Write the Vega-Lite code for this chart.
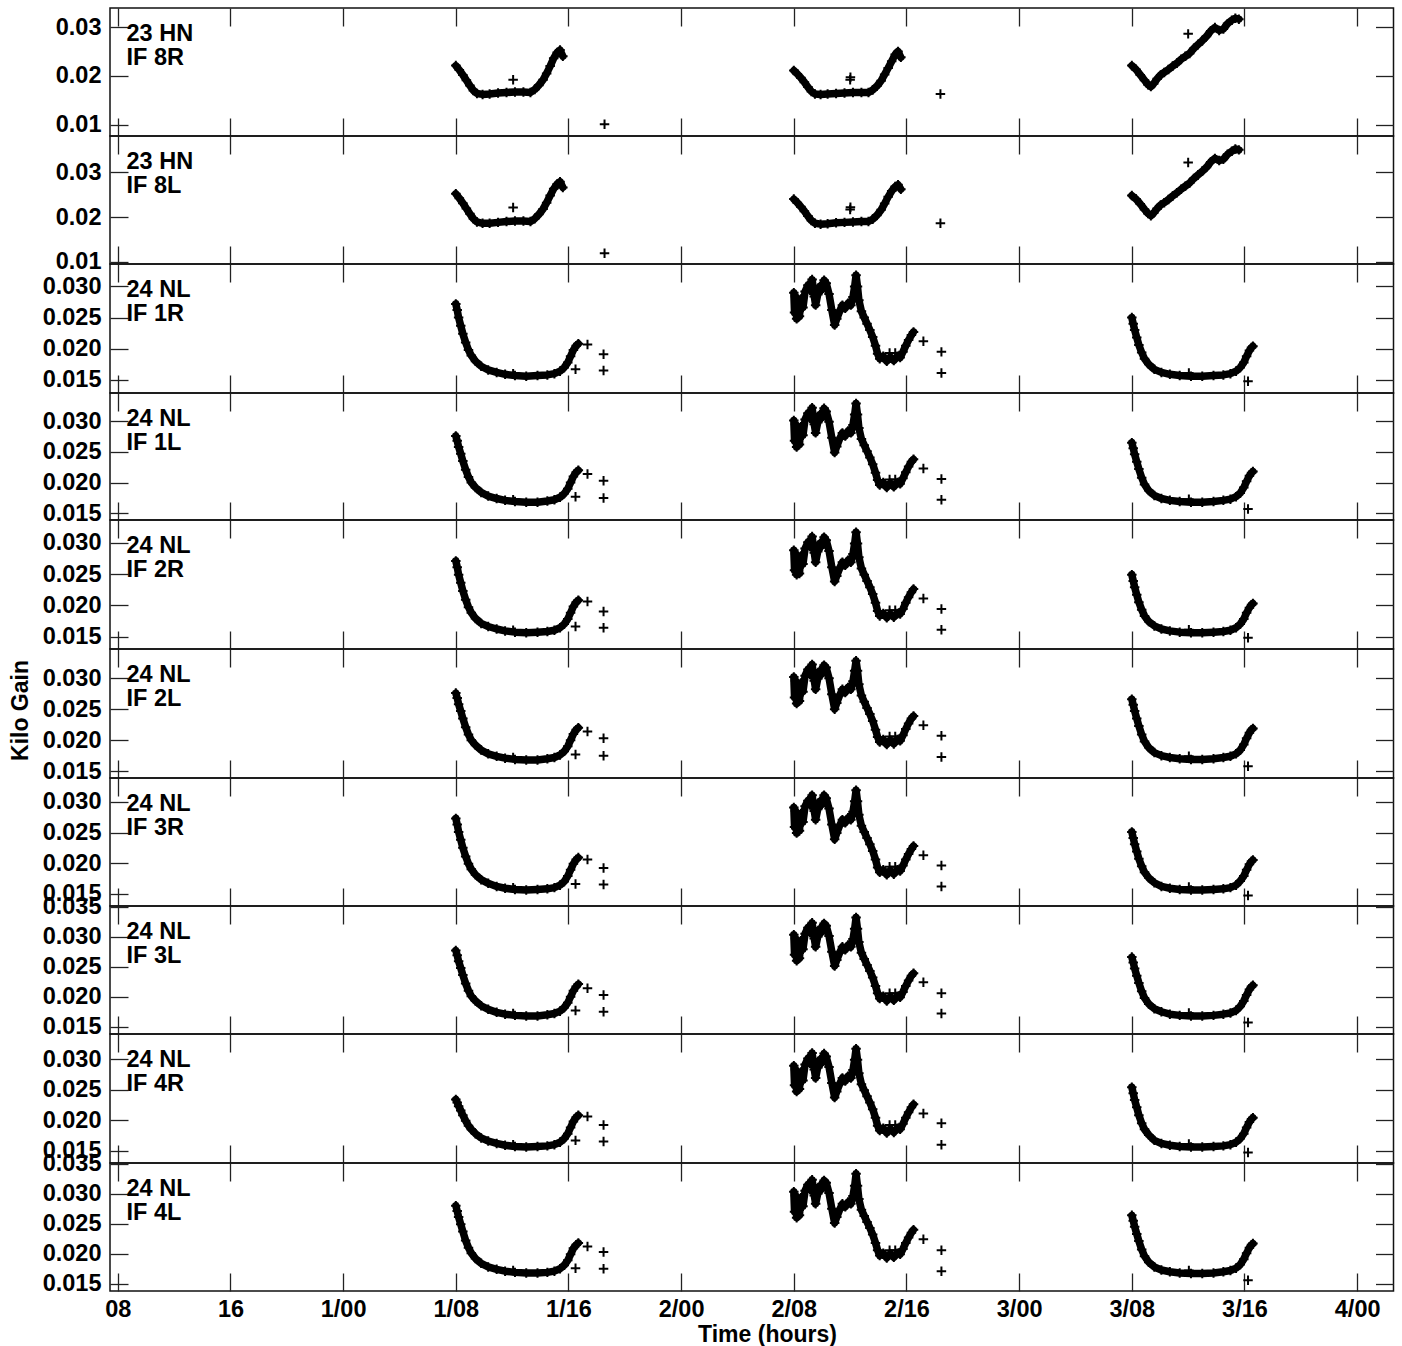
{
"$schema": "https://vega.github.io/schema/vega-lite/v6.json",
"padding": {"left": 8, "top": 6, "right": 9, "bottom": 0},
"bounds": "flush",
"spacing": 0,
"background": "white",
"config": {
 "font": "Liberation Sans",
 "view": {"stroke": "#111", "strokeWidth": 1.5},
 "axis": {"labelFont": "Liberation Sans", "labelFontSize": 23.5, "labelFontWeight": "bold", "labelColor": "black", "titleFont": "Liberation Sans", "titleFontSize": 23, "titleFontWeight": "bold", "titleColor": "black", "tickColor": "#222", "tickWidth": 1.3, "tickSize": -18, "domain": false, "grid": false, "labelFlush": false, "labelOverlap": false},
 "axisTop": {"labels": false},
 "axisRight": {"labels": false},
 "axisBottom": {"labels": false},
 "axisLeft": {"labelPadding": 27}
},
"datasets": {
"p1": [{"t":32,"v":0.0221},{"t":32.25,"v":0.0212},{"t":32.5,"v":0.0202},{"t":32.75,"v":0.0191},{"t":33,"v":0.018},{"t":33.25,"v":0.017},{"t":33.5,"v":0.0164},{"t":33.9,"v":0.0162},{"t":34.4,"v":0.0163},{"t":35,"v":0.0165},{"t":35.6,"v":0.0166},{"t":36.2,"v":0.0167},{"t":36.8,"v":0.0167},{"t":37.3,"v":0.0166},{"t":37.6,"v":0.0172},{"t":37.9,"v":0.0181},{"t":38.2,"v":0.0192},{"t":38.45,"v":0.0205},{"t":38.7,"v":0.022},{"t":38.95,"v":0.0236},{"t":39.2,"v":0.0248},{"t":39.4,"v":0.0253},{"t":39.6,"v":0.024},
{"t":36.07,"v":0.0192,"i":1},{"t":42.56,"v":0.0101,"i":1},
{"t":56,"v":0.0211},{"t":56.25,"v":0.0204},{"t":56.5,"v":0.0196},{"t":56.75,"v":0.0187},{"t":57,"v":0.0177},{"t":57.25,"v":0.0168},{"t":57.5,"v":0.0163},{"t":57.9,"v":0.0162},{"t":58.4,"v":0.0163},{"t":59,"v":0.0164},{"t":59.6,"v":0.0165},{"t":60.2,"v":0.0166},{"t":60.8,"v":0.0166},{"t":61.3,"v":0.0166},{"t":61.6,"v":0.0171},{"t":61.9,"v":0.0179},{"t":62.2,"v":0.019},{"t":62.45,"v":0.0203},{"t":62.7,"v":0.0216},{"t":62.95,"v":0.023},{"t":63.2,"v":0.0244},{"t":63.4,"v":0.025},{"t":63.6,"v":0.0238},
{"t":60,"v":0.0192,"i":1},{"t":60.02,"v":0.0197,"i":1},{"t":66.41,"v":0.0163,"i":1},
{"t":80,"v":0.0221},{"t":80.3,"v":0.0213},{"t":80.6,"v":0.0202},{"t":80.9,"v":0.0191},{"t":81.15,"v":0.0182},{"t":81.35,"v":0.0178},{"t":81.55,"v":0.0184},{"t":81.8,"v":0.0194},{"t":82.05,"v":0.0202},{"t":82.3,"v":0.0207},{"t":82.6,"v":0.0213},{"t":82.9,"v":0.022},{"t":83.2,"v":0.0226},{"t":83.5,"v":0.0234},{"t":83.8,"v":0.024},{"t":84.1,"v":0.0246},{"t":84.4,"v":0.0256},{"t":84.7,"v":0.0264},{"t":85,"v":0.0272},{"t":85.3,"v":0.0281},{"t":85.6,"v":0.0292},{"t":85.9,"v":0.0299},{"t":86.2,"v":0.0293},{"t":86.5,"v":0.0296},{"t":86.8,"v":0.0307},{"t":87.1,"v":0.0314},{"t":87.35,"v":0.0318},{"t":87.6,"v":0.0316},
{"t":84,"v":0.0286,"i":1}],
"p2": [{"t":32,"v":0.0252},{"t":32.25,"v":0.0242},{"t":32.5,"v":0.0231},{"t":32.75,"v":0.0219},{"t":33,"v":0.0207},{"t":33.25,"v":0.0196},{"t":33.5,"v":0.0189},{"t":33.9,"v":0.0186},{"t":34.4,"v":0.0186},{"t":35,"v":0.0188},{"t":35.6,"v":0.019},{"t":36.2,"v":0.0191},{"t":36.8,"v":0.0191},{"t":37.3,"v":0.019},{"t":37.6,"v":0.0196},{"t":37.9,"v":0.0206},{"t":38.2,"v":0.0218},{"t":38.45,"v":0.0232},{"t":38.7,"v":0.0248},{"t":38.95,"v":0.0263},{"t":39.2,"v":0.0274},{"t":39.4,"v":0.0279},{"t":39.6,"v":0.0266},
{"t":36.07,"v":0.0221,"i":1},{"t":42.56,"v":0.0119,"i":1},
{"t":56,"v":0.024},{"t":56.25,"v":0.0232},{"t":56.5,"v":0.0223},{"t":56.75,"v":0.0213},{"t":57,"v":0.0202},{"t":57.25,"v":0.0192},{"t":57.5,"v":0.0186},{"t":57.9,"v":0.0184},{"t":58.4,"v":0.0185},{"t":59,"v":0.0187},{"t":59.6,"v":0.0188},{"t":60.2,"v":0.0189},{"t":60.8,"v":0.019},{"t":61.3,"v":0.019},{"t":61.6,"v":0.0195},{"t":61.9,"v":0.0204},{"t":62.2,"v":0.0216},{"t":62.45,"v":0.023},{"t":62.7,"v":0.0245},{"t":62.95,"v":0.0258},{"t":63.2,"v":0.0268},{"t":63.4,"v":0.0272},{"t":63.6,"v":0.0262},
{"t":60,"v":0.0217,"i":1},{"t":60.02,"v":0.0222,"i":1},{"t":66.41,"v":0.0186,"i":1},
{"t":80,"v":0.0248},{"t":80.3,"v":0.024},{"t":80.6,"v":0.0229},{"t":80.9,"v":0.0217},{"t":81.15,"v":0.0208},{"t":81.35,"v":0.0203},{"t":81.55,"v":0.0209},{"t":81.8,"v":0.0219},{"t":82.05,"v":0.0227},{"t":82.3,"v":0.0232},{"t":82.6,"v":0.0239},{"t":82.9,"v":0.0247},{"t":83.2,"v":0.0254},{"t":83.5,"v":0.0262},{"t":83.8,"v":0.0269},{"t":84.1,"v":0.0276},{"t":84.4,"v":0.0286},{"t":84.7,"v":0.0294},{"t":85,"v":0.0302},{"t":85.3,"v":0.0311},{"t":85.6,"v":0.0323},{"t":85.9,"v":0.0331},{"t":86.2,"v":0.0326},{"t":86.5,"v":0.0329},{"t":86.8,"v":0.034},{"t":87.1,"v":0.0347},{"t":87.35,"v":0.0352},{"t":87.6,"v":0.035},
{"t":84,"v":0.0322,"i":1}],
"p3": [{"t":32,"v":0.0272},{"t":32.1,"v":0.0262},{"t":32.2,"v":0.025},{"t":32.35,"v":0.0237},{"t":32.5,"v":0.0224},{"t":32.7,"v":0.021},{"t":32.9,"v":0.0198},{"t":33.1,"v":0.0189},{"t":33.4,"v":0.018},{"t":33.8,"v":0.0172},{"t":34.3,"v":0.0166},{"t":34.9,"v":0.0162},{"t":35.5,"v":0.0159},{"t":36.2,"v":0.0157},{"t":37,"v":0.0156},{"t":37.8,"v":0.0157},{"t":38.5,"v":0.0158},{"t":39,"v":0.016},{"t":39.4,"v":0.0164},{"t":39.7,"v":0.017},{"t":39.95,"v":0.0178},{"t":40.15,"v":0.0188},{"t":40.35,"v":0.0198},{"t":40.55,"v":0.0205},{"t":40.7,"v":0.0208},
{"t":36.07,"v":0.016,"i":1},{"t":40.5,"v":0.0167,"i":1},{"t":41.35,"v":0.0207,"i":1},{"t":42.49,"v":0.0191,"i":1},{"t":42.49,"v":0.0165,"i":1},
{"t":56,"v":0.029},{"t":56.05,"v":0.0258},{"t":56.12,"v":0.0284},{"t":56.2,"v":0.0248},{"t":56.3,"v":0.0276},{"t":56.4,"v":0.0252},{"t":56.5,"v":0.028},{"t":56.65,"v":0.0266},{"t":56.8,"v":0.0292},{"t":57,"v":0.0302},{"t":57.15,"v":0.0294},{"t":57.3,"v":0.0311},{"t":57.45,"v":0.0284},{"t":57.55,"v":0.027},{"t":57.7,"v":0.0287},{"t":57.85,"v":0.03},{"t":58,"v":0.0295},{"t":58.15,"v":0.031},{"t":58.3,"v":0.0305},{"t":58.5,"v":0.0288},{"t":58.7,"v":0.0262},{"t":58.9,"v":0.0238},{"t":59.05,"v":0.0248},{"t":59.25,"v":0.026},{"t":59.45,"v":0.027},{"t":59.65,"v":0.0265},{"t":59.85,"v":0.0273},{"t":60.05,"v":0.027},{"t":60.2,"v":0.0283},{"t":60.32,"v":0.03},{"t":60.42,"v":0.0318},{"t":60.52,"v":0.03},{"t":60.62,"v":0.0278},{"t":60.8,"v":0.026},{"t":61,"v":0.025},{"t":61.2,"v":0.024},{"t":61.4,"v":0.023},{"t":61.6,"v":0.0219},{"t":61.8,"v":0.0205},{"t":61.95,"v":0.0192},{"t":62.1,"v":0.0184},{"t":62.35,"v":0.0188},{"t":62.6,"v":0.018},{"t":62.85,"v":0.0187},{"t":63.1,"v":0.0181},{"t":63.35,"v":0.0188},{"t":63.55,"v":0.0186},{"t":63.75,"v":0.0195},{"t":63.95,"v":0.0205},{"t":64.15,"v":0.0214},{"t":64.35,"v":0.0222},{"t":64.5,"v":0.0227},
{"t":62.8,"v":0.0193,"i":1},{"t":63.2,"v":0.0193,"i":1},{"t":65.2,"v":0.0212,"i":1},{"t":66.48,"v":0.0195,"i":1},{"t":66.48,"v":0.0161,"i":1},
{"t":80,"v":0.025},{"t":80.1,"v":0.024},{"t":80.2,"v":0.023},{"t":80.35,"v":0.0218},{"t":80.5,"v":0.0206},{"t":80.7,"v":0.0194},{"t":80.9,"v":0.0184},{"t":81.2,"v":0.0175},{"t":81.6,"v":0.0167},{"t":82.1,"v":0.0162},{"t":82.7,"v":0.0159},{"t":83.4,"v":0.0157},{"t":84.2,"v":0.0156},{"t":85,"v":0.0156},{"t":85.8,"v":0.0157},{"t":86.5,"v":0.0158},{"t":87,"v":0.016},{"t":87.4,"v":0.0164},{"t":87.7,"v":0.017},{"t":87.95,"v":0.0178},{"t":88.15,"v":0.0188},{"t":88.35,"v":0.0197},{"t":88.5,"v":0.0202},{"t":88.6,"v":0.0204},
{"t":84.05,"v":0.0161,"i":1},{"t":88.25,"v":0.0148,"i":1}],
"p4": [{"t":32,"v":0.0276},{"t":32.1,"v":0.0268},{"t":32.2,"v":0.0258},{"t":32.35,"v":0.0247},{"t":32.5,"v":0.0235},{"t":32.7,"v":0.0221},{"t":32.9,"v":0.0209},{"t":33.1,"v":0.02},{"t":33.4,"v":0.0192},{"t":33.8,"v":0.0184},{"t":34.3,"v":0.0178},{"t":34.9,"v":0.0174},{"t":35.5,"v":0.0171},{"t":36.2,"v":0.0169},{"t":37,"v":0.0168},{"t":37.8,"v":0.0168},{"t":38.5,"v":0.017},{"t":39,"v":0.0172},{"t":39.4,"v":0.0176},{"t":39.7,"v":0.0182},{"t":39.95,"v":0.019},{"t":40.15,"v":0.02},{"t":40.35,"v":0.021},{"t":40.55,"v":0.0217},{"t":40.7,"v":0.022},
{"t":36.07,"v":0.0172,"i":1},{"t":40.5,"v":0.0177,"i":1},{"t":41.35,"v":0.0214,"i":1},{"t":42.49,"v":0.0203,"i":1},{"t":42.49,"v":0.0175,"i":1},
{"t":56,"v":0.0301},{"t":56.05,"v":0.0268},{"t":56.12,"v":0.0295},{"t":56.2,"v":0.0258},{"t":56.3,"v":0.0287},{"t":56.4,"v":0.0262},{"t":56.5,"v":0.0291},{"t":56.65,"v":0.0277},{"t":56.8,"v":0.0303},{"t":57,"v":0.0313},{"t":57.15,"v":0.0305},{"t":57.3,"v":0.0322},{"t":57.45,"v":0.0295},{"t":57.55,"v":0.0281},{"t":57.7,"v":0.0298},{"t":57.85,"v":0.0311},{"t":58,"v":0.0306},{"t":58.15,"v":0.0321},{"t":58.3,"v":0.0316},{"t":58.5,"v":0.0299},{"t":58.7,"v":0.0273},{"t":58.9,"v":0.0249},{"t":59.05,"v":0.0259},{"t":59.25,"v":0.0271},{"t":59.45,"v":0.0281},{"t":59.65,"v":0.0276},{"t":59.85,"v":0.0284},{"t":60.05,"v":0.0281},{"t":60.2,"v":0.0294},{"t":60.32,"v":0.0311},{"t":60.42,"v":0.0329},{"t":60.52,"v":0.0311},{"t":60.62,"v":0.0289},{"t":60.8,"v":0.0271},{"t":61,"v":0.0261},{"t":61.2,"v":0.0251},{"t":61.4,"v":0.0241},{"t":61.6,"v":0.023},{"t":61.8,"v":0.0216},{"t":61.95,"v":0.0204},{"t":62.1,"v":0.0196},{"t":62.35,"v":0.02},{"t":62.6,"v":0.0192},{"t":62.85,"v":0.0199},{"t":63.1,"v":0.0193},{"t":63.35,"v":0.02},{"t":63.55,"v":0.0198},{"t":63.75,"v":0.0207},{"t":63.95,"v":0.0217},{"t":64.15,"v":0.0226},{"t":64.35,"v":0.0234},{"t":64.5,"v":0.0238},
{"t":62.8,"v":0.0205,"i":1},{"t":63.2,"v":0.0205,"i":1},{"t":65.2,"v":0.0223,"i":1},{"t":66.48,"v":0.0206,"i":1},{"t":66.48,"v":0.0172,"i":1},
{"t":80,"v":0.0265},{"t":80.1,"v":0.0256},{"t":80.2,"v":0.0246},{"t":80.35,"v":0.0234},{"t":80.5,"v":0.0222},{"t":80.7,"v":0.0208},{"t":80.9,"v":0.0197},{"t":81.2,"v":0.0187},{"t":81.6,"v":0.0179},{"t":82.1,"v":0.0174},{"t":82.7,"v":0.0171},{"t":83.4,"v":0.0169},{"t":84.2,"v":0.0168},{"t":85,"v":0.0168},{"t":85.8,"v":0.0169},{"t":86.5,"v":0.0171},{"t":87,"v":0.0173},{"t":87.4,"v":0.0177},{"t":87.7,"v":0.0183},{"t":87.95,"v":0.0192},{"t":88.15,"v":0.0202},{"t":88.35,"v":0.0211},{"t":88.5,"v":0.0216},{"t":88.6,"v":0.0218},
{"t":84.05,"v":0.0173,"i":1},{"t":88.25,"v":0.0157,"i":1}],
"p5": [{"t":32,"v":0.0271},{"t":32.1,"v":0.0261},{"t":32.2,"v":0.0249},{"t":32.35,"v":0.0236},{"t":32.5,"v":0.0223},{"t":32.7,"v":0.0209},{"t":32.9,"v":0.0197},{"t":33.1,"v":0.0188},{"t":33.4,"v":0.0179},{"t":33.8,"v":0.0171},{"t":34.3,"v":0.0166},{"t":34.9,"v":0.0162},{"t":35.5,"v":0.0159},{"t":36.2,"v":0.0157},{"t":37,"v":0.0156},{"t":37.8,"v":0.0157},{"t":38.5,"v":0.0158},{"t":39,"v":0.016},{"t":39.4,"v":0.0164},{"t":39.7,"v":0.017},{"t":39.95,"v":0.0178},{"t":40.15,"v":0.0188},{"t":40.35,"v":0.0198},{"t":40.55,"v":0.0205},{"t":40.7,"v":0.0208},
{"t":36.07,"v":0.016,"i":1},{"t":40.5,"v":0.0166,"i":1},{"t":41.35,"v":0.0206,"i":1},{"t":42.49,"v":0.019,"i":1},{"t":42.49,"v":0.0164,"i":1},
{"t":56,"v":0.0288},{"t":56.05,"v":0.0256},{"t":56.12,"v":0.0283},{"t":56.2,"v":0.0249},{"t":56.3,"v":0.0275},{"t":56.4,"v":0.0251},{"t":56.5,"v":0.0279},{"t":56.65,"v":0.0266},{"t":56.8,"v":0.0291},{"t":57,"v":0.0301},{"t":57.15,"v":0.0294},{"t":57.3,"v":0.031},{"t":57.45,"v":0.0284},{"t":57.55,"v":0.0269},{"t":57.7,"v":0.0286},{"t":57.85,"v":0.0299},{"t":58,"v":0.0295},{"t":58.15,"v":0.0309},{"t":58.3,"v":0.0304},{"t":58.5,"v":0.0287},{"t":58.7,"v":0.0261},{"t":58.9,"v":0.0238},{"t":59.05,"v":0.0247},{"t":59.25,"v":0.0259},{"t":59.45,"v":0.0269},{"t":59.65,"v":0.0264},{"t":59.85,"v":0.0272},{"t":60.05,"v":0.0269},{"t":60.2,"v":0.0282},{"t":60.32,"v":0.0299},{"t":60.42,"v":0.0317},{"t":60.52,"v":0.0299},{"t":60.62,"v":0.0277},{"t":60.8,"v":0.0259},{"t":61,"v":0.0249},{"t":61.2,"v":0.0239},{"t":61.4,"v":0.0229},{"t":61.6,"v":0.0218},{"t":61.8,"v":0.0204},{"t":61.95,"v":0.0191},{"t":62.1,"v":0.0183},{"t":62.35,"v":0.0187},{"t":62.6,"v":0.018},{"t":62.85,"v":0.0186},{"t":63.1,"v":0.0181},{"t":63.35,"v":0.0187},{"t":63.55,"v":0.0186},{"t":63.75,"v":0.0194},{"t":63.95,"v":0.0204},{"t":64.15,"v":0.0213},{"t":64.35,"v":0.0221},{"t":64.5,"v":0.0226},
{"t":62.8,"v":0.0192,"i":1},{"t":63.2,"v":0.0192,"i":1},{"t":65.2,"v":0.0211,"i":1},{"t":66.48,"v":0.0194,"i":1},{"t":66.48,"v":0.0161,"i":1},
{"t":80,"v":0.0249},{"t":80.1,"v":0.0239},{"t":80.2,"v":0.0229},{"t":80.35,"v":0.0217},{"t":80.5,"v":0.0205},{"t":80.7,"v":0.0193},{"t":80.9,"v":0.0183},{"t":81.2,"v":0.0174},{"t":81.6,"v":0.0167},{"t":82.1,"v":0.0162},{"t":82.7,"v":0.0159},{"t":83.4,"v":0.0157},{"t":84.2,"v":0.0156},{"t":85,"v":0.0156},{"t":85.8,"v":0.0157},{"t":86.5,"v":0.0158},{"t":87,"v":0.016},{"t":87.4,"v":0.0164},{"t":87.7,"v":0.017},{"t":87.95,"v":0.0178},{"t":88.15,"v":0.0188},{"t":88.35,"v":0.0196},{"t":88.5,"v":0.0201},{"t":88.6,"v":0.0203},
{"t":84.05,"v":0.0161,"i":1},{"t":88.25,"v":0.0148,"i":1}],
"p6": [{"t":32,"v":0.0276},{"t":32.1,"v":0.0268},{"t":32.2,"v":0.0258},{"t":32.35,"v":0.0247},{"t":32.5,"v":0.0235},{"t":32.7,"v":0.0221},{"t":32.9,"v":0.0209},{"t":33.1,"v":0.02},{"t":33.4,"v":0.0192},{"t":33.8,"v":0.0184},{"t":34.3,"v":0.0178},{"t":34.9,"v":0.0174},{"t":35.5,"v":0.0171},{"t":36.2,"v":0.0169},{"t":37,"v":0.0168},{"t":37.8,"v":0.0168},{"t":38.5,"v":0.017},{"t":39,"v":0.0172},{"t":39.4,"v":0.0176},{"t":39.7,"v":0.0182},{"t":39.95,"v":0.019},{"t":40.15,"v":0.02},{"t":40.35,"v":0.021},{"t":40.55,"v":0.0217},{"t":40.7,"v":0.022},
{"t":36.07,"v":0.0172,"i":1},{"t":40.5,"v":0.0177,"i":1},{"t":41.35,"v":0.0214,"i":1},{"t":42.49,"v":0.0203,"i":1},{"t":42.49,"v":0.0175,"i":1},
{"t":56,"v":0.0302},{"t":56.05,"v":0.0269},{"t":56.12,"v":0.0296},{"t":56.2,"v":0.0259},{"t":56.3,"v":0.0288},{"t":56.4,"v":0.0263},{"t":56.5,"v":0.0292},{"t":56.65,"v":0.0278},{"t":56.8,"v":0.0304},{"t":57,"v":0.0314},{"t":57.15,"v":0.0306},{"t":57.3,"v":0.0322},{"t":57.45,"v":0.0296},{"t":57.55,"v":0.0282},{"t":57.7,"v":0.0299},{"t":57.85,"v":0.0312},{"t":58,"v":0.0307},{"t":58.15,"v":0.0321},{"t":58.3,"v":0.0317},{"t":58.5,"v":0.03},{"t":58.7,"v":0.0274},{"t":58.9,"v":0.025},{"t":59.05,"v":0.026},{"t":59.25,"v":0.0272},{"t":59.45,"v":0.0282},{"t":59.65,"v":0.0277},{"t":59.85,"v":0.0285},{"t":60.05,"v":0.0282},{"t":60.2,"v":0.0295},{"t":60.32,"v":0.0312},{"t":60.42,"v":0.0328},{"t":60.52,"v":0.0312},{"t":60.62,"v":0.029},{"t":60.8,"v":0.0272},{"t":61,"v":0.0262},{"t":61.2,"v":0.0252},{"t":61.4,"v":0.0242},{"t":61.6,"v":0.0231},{"t":61.8,"v":0.0217},{"t":61.95,"v":0.0205},{"t":62.1,"v":0.0197},{"t":62.35,"v":0.0201},{"t":62.6,"v":0.0193},{"t":62.85,"v":0.02},{"t":63.1,"v":0.0194},{"t":63.35,"v":0.0201},{"t":63.55,"v":0.0199},{"t":63.75,"v":0.0208},{"t":63.95,"v":0.0218},{"t":64.15,"v":0.0227},{"t":64.35,"v":0.0235},{"t":64.5,"v":0.0239},
{"t":62.8,"v":0.0206,"i":1},{"t":63.2,"v":0.0206,"i":1},{"t":65.2,"v":0.0224,"i":1},{"t":66.48,"v":0.0207,"i":1},{"t":66.48,"v":0.0173,"i":1},
{"t":80,"v":0.0266},{"t":80.1,"v":0.0257},{"t":80.2,"v":0.0247},{"t":80.35,"v":0.0235},{"t":80.5,"v":0.0223},{"t":80.7,"v":0.0209},{"t":80.9,"v":0.0198},{"t":81.2,"v":0.0188},{"t":81.6,"v":0.018},{"t":82.1,"v":0.0175},{"t":82.7,"v":0.0172},{"t":83.4,"v":0.017},{"t":84.2,"v":0.0169},{"t":85,"v":0.0169},{"t":85.8,"v":0.017},{"t":86.5,"v":0.0172},{"t":87,"v":0.0174},{"t":87.4,"v":0.0178},{"t":87.7,"v":0.0184},{"t":87.95,"v":0.0193},{"t":88.15,"v":0.0203},{"t":88.35,"v":0.0212},{"t":88.5,"v":0.0217},{"t":88.6,"v":0.0219},
{"t":84.05,"v":0.0174,"i":1},{"t":88.25,"v":0.0158,"i":1}],
"p7": [{"t":32,"v":0.0273},{"t":32.1,"v":0.0263},{"t":32.2,"v":0.0251},{"t":32.35,"v":0.0238},{"t":32.5,"v":0.0225},{"t":32.7,"v":0.0211},{"t":32.9,"v":0.0199},{"t":33.1,"v":0.019},{"t":33.4,"v":0.0181},{"t":33.8,"v":0.0173},{"t":34.3,"v":0.0167},{"t":34.9,"v":0.0162},{"t":35.5,"v":0.0159},{"t":36.2,"v":0.0157},{"t":37,"v":0.0156},{"t":37.8,"v":0.0157},{"t":38.5,"v":0.0158},{"t":39,"v":0.016},{"t":39.4,"v":0.0164},{"t":39.7,"v":0.017},{"t":39.95,"v":0.0179},{"t":40.15,"v":0.0189},{"t":40.35,"v":0.0199},{"t":40.55,"v":0.0206},{"t":40.7,"v":0.0209},
{"t":36.07,"v":0.016,"i":1},{"t":40.5,"v":0.0166,"i":1},{"t":41.35,"v":0.0206,"i":1},{"t":42.49,"v":0.0192,"i":1},{"t":42.49,"v":0.0165,"i":1},
{"t":56,"v":0.0291},{"t":56.05,"v":0.0259},{"t":56.12,"v":0.0285},{"t":56.2,"v":0.0249},{"t":56.3,"v":0.0277},{"t":56.4,"v":0.0253},{"t":56.5,"v":0.0281},{"t":56.65,"v":0.0267},{"t":56.8,"v":0.0293},{"t":57,"v":0.0302},{"t":57.15,"v":0.0295},{"t":57.3,"v":0.0311},{"t":57.45,"v":0.0285},{"t":57.55,"v":0.0271},{"t":57.7,"v":0.0288},{"t":57.85,"v":0.0301},{"t":58,"v":0.0296},{"t":58.15,"v":0.0311},{"t":58.3,"v":0.0306},{"t":58.5,"v":0.0289},{"t":58.7,"v":0.0263},{"t":58.9,"v":0.0239},{"t":59.05,"v":0.0249},{"t":59.25,"v":0.0261},{"t":59.45,"v":0.0271},{"t":59.65,"v":0.0266},{"t":59.85,"v":0.0274},{"t":60.05,"v":0.0271},{"t":60.2,"v":0.0284},{"t":60.32,"v":0.0301},{"t":60.42,"v":0.0319},{"t":60.52,"v":0.0301},{"t":60.62,"v":0.0279},{"t":60.8,"v":0.0261},{"t":61,"v":0.0251},{"t":61.2,"v":0.0241},{"t":61.4,"v":0.0231},{"t":61.6,"v":0.022},{"t":61.8,"v":0.0206},{"t":61.95,"v":0.0193},{"t":62.1,"v":0.0185},{"t":62.35,"v":0.0189},{"t":62.6,"v":0.0181},{"t":62.85,"v":0.0188},{"t":63.1,"v":0.0182},{"t":63.35,"v":0.0189},{"t":63.55,"v":0.0187},{"t":63.75,"v":0.0196},{"t":63.95,"v":0.0206},{"t":64.15,"v":0.0215},{"t":64.35,"v":0.0223},{"t":64.5,"v":0.0228},
{"t":62.8,"v":0.0194,"i":1},{"t":63.2,"v":0.0194,"i":1},{"t":65.2,"v":0.0213,"i":1},{"t":66.48,"v":0.0196,"i":1},{"t":66.48,"v":0.0162,"i":1},
{"t":80,"v":0.0251},{"t":80.1,"v":0.0241},{"t":80.2,"v":0.0231},{"t":80.35,"v":0.0219},{"t":80.5,"v":0.0207},{"t":80.7,"v":0.0195},{"t":80.9,"v":0.0185},{"t":81.2,"v":0.0176},{"t":81.6,"v":0.0168},{"t":82.1,"v":0.0162},{"t":82.7,"v":0.0159},{"t":83.4,"v":0.0157},{"t":84.2,"v":0.0156},{"t":85,"v":0.0156},{"t":85.8,"v":0.0157},{"t":86.5,"v":0.0158},{"t":87,"v":0.016},{"t":87.4,"v":0.0164},{"t":87.7,"v":0.0171},{"t":87.95,"v":0.0179},{"t":88.15,"v":0.0189},{"t":88.35,"v":0.0198},{"t":88.5,"v":0.0203},{"t":88.6,"v":0.0205},
{"t":84.05,"v":0.0161,"i":1},{"t":88.25,"v":0.0147,"i":1}],
"p8": [{"t":32,"v":0.0277},{"t":32.1,"v":0.0269},{"t":32.2,"v":0.0259},{"t":32.35,"v":0.0248},{"t":32.5,"v":0.0236},{"t":32.7,"v":0.0222},{"t":32.9,"v":0.021},{"t":33.1,"v":0.0201},{"t":33.4,"v":0.0193},{"t":33.8,"v":0.0185},{"t":34.3,"v":0.0179},{"t":34.9,"v":0.0174},{"t":35.5,"v":0.0171},{"t":36.2,"v":0.0169},{"t":37,"v":0.0168},{"t":37.8,"v":0.0168},{"t":38.5,"v":0.017},{"t":39,"v":0.0172},{"t":39.4,"v":0.0176},{"t":39.7,"v":0.0182},{"t":39.95,"v":0.019},{"t":40.15,"v":0.02},{"t":40.35,"v":0.021},{"t":40.55,"v":0.0217},{"t":40.7,"v":0.0221},
{"t":36.07,"v":0.0172,"i":1},{"t":40.5,"v":0.0177,"i":1},{"t":41.35,"v":0.0214,"i":1},{"t":42.49,"v":0.0203,"i":1},{"t":42.49,"v":0.0175,"i":1},
{"t":56,"v":0.0303},{"t":56.05,"v":0.027},{"t":56.12,"v":0.0297},{"t":56.2,"v":0.026},{"t":56.3,"v":0.0289},{"t":56.4,"v":0.0264},{"t":56.5,"v":0.0293},{"t":56.65,"v":0.0279},{"t":56.8,"v":0.0305},{"t":57,"v":0.0315},{"t":57.15,"v":0.0307},{"t":57.3,"v":0.0323},{"t":57.45,"v":0.0297},{"t":57.55,"v":0.0283},{"t":57.7,"v":0.03},{"t":57.85,"v":0.0313},{"t":58,"v":0.0308},{"t":58.15,"v":0.0322},{"t":58.3,"v":0.0318},{"t":58.5,"v":0.0301},{"t":58.7,"v":0.0275},{"t":58.9,"v":0.0251},{"t":59.05,"v":0.0261},{"t":59.25,"v":0.0273},{"t":59.45,"v":0.0283},{"t":59.65,"v":0.0278},{"t":59.85,"v":0.0286},{"t":60.05,"v":0.0283},{"t":60.2,"v":0.0296},{"t":60.32,"v":0.0313},{"t":60.42,"v":0.0332},{"t":60.52,"v":0.0313},{"t":60.62,"v":0.0291},{"t":60.8,"v":0.0273},{"t":61,"v":0.0263},{"t":61.2,"v":0.0253},{"t":61.4,"v":0.0243},{"t":61.6,"v":0.0232},{"t":61.8,"v":0.0218},{"t":61.95,"v":0.0206},{"t":62.1,"v":0.0197},{"t":62.35,"v":0.0201},{"t":62.6,"v":0.0193},{"t":62.85,"v":0.02},{"t":63.1,"v":0.0194},{"t":63.35,"v":0.0201},{"t":63.55,"v":0.0199},{"t":63.75,"v":0.0208},{"t":63.95,"v":0.0218},{"t":64.15,"v":0.0227},{"t":64.35,"v":0.0235},{"t":64.5,"v":0.0239},
{"t":62.8,"v":0.0206,"i":1},{"t":63.2,"v":0.0206,"i":1},{"t":65.2,"v":0.0224,"i":1},{"t":66.48,"v":0.0206,"i":1},{"t":66.48,"v":0.0172,"i":1},
{"t":80,"v":0.0266},{"t":80.1,"v":0.0257},{"t":80.2,"v":0.0247},{"t":80.35,"v":0.0235},{"t":80.5,"v":0.0223},{"t":80.7,"v":0.0209},{"t":80.9,"v":0.0198},{"t":81.2,"v":0.0188},{"t":81.6,"v":0.018},{"t":82.1,"v":0.0175},{"t":82.7,"v":0.0171},{"t":83.4,"v":0.0169},{"t":84.2,"v":0.0168},{"t":85,"v":0.0168},{"t":85.8,"v":0.0169},{"t":86.5,"v":0.0171},{"t":87,"v":0.0173},{"t":87.4,"v":0.0177},{"t":87.7,"v":0.0184},{"t":87.95,"v":0.0193},{"t":88.15,"v":0.0203},{"t":88.35,"v":0.0212},{"t":88.5,"v":0.0217},{"t":88.6,"v":0.0219},
{"t":84.05,"v":0.0173,"i":1},{"t":88.25,"v":0.0157,"i":1}],
"p9": [{"t":32,"v":0.0234},{"t":32.1,"v":0.0229},{"t":32.2,"v":0.0223},{"t":32.35,"v":0.0216},{"t":32.5,"v":0.0208},{"t":32.7,"v":0.0199},{"t":32.9,"v":0.0191},{"t":33.1,"v":0.0185},{"t":33.4,"v":0.0178},{"t":33.8,"v":0.0171},{"t":34.3,"v":0.0166},{"t":34.9,"v":0.0162},{"t":35.5,"v":0.0159},{"t":36.2,"v":0.0157},{"t":37,"v":0.0156},{"t":37.8,"v":0.0157},{"t":38.5,"v":0.0158},{"t":39,"v":0.016},{"t":39.4,"v":0.0164},{"t":39.7,"v":0.017},{"t":39.95,"v":0.0178},{"t":40.15,"v":0.0188},{"t":40.35,"v":0.0198},{"t":40.55,"v":0.0205},{"t":40.7,"v":0.0208},
{"t":36.07,"v":0.016,"i":1},{"t":40.5,"v":0.0167,"i":1},{"t":41.35,"v":0.0206,"i":1},{"t":42.49,"v":0.0192,"i":1},{"t":42.49,"v":0.0165,"i":1},
{"t":56,"v":0.0289},{"t":56.05,"v":0.0257},{"t":56.12,"v":0.0283},{"t":56.2,"v":0.0247},{"t":56.3,"v":0.0275},{"t":56.4,"v":0.0251},{"t":56.5,"v":0.0279},{"t":56.65,"v":0.0265},{"t":56.8,"v":0.0291},{"t":57,"v":0.0301},{"t":57.15,"v":0.0293},{"t":57.3,"v":0.031},{"t":57.45,"v":0.0283},{"t":57.55,"v":0.0269},{"t":57.7,"v":0.0286},{"t":57.85,"v":0.0299},{"t":58,"v":0.0294},{"t":58.15,"v":0.0309},{"t":58.3,"v":0.0304},{"t":58.5,"v":0.0287},{"t":58.7,"v":0.0261},{"t":58.9,"v":0.0237},{"t":59.05,"v":0.0247},{"t":59.25,"v":0.0259},{"t":59.45,"v":0.0269},{"t":59.65,"v":0.0264},{"t":59.85,"v":0.0272},{"t":60.05,"v":0.0269},{"t":60.2,"v":0.0282},{"t":60.32,"v":0.0299},{"t":60.42,"v":0.0317},{"t":60.52,"v":0.0299},{"t":60.62,"v":0.0277},{"t":60.8,"v":0.0259},{"t":61,"v":0.0249},{"t":61.2,"v":0.0239},{"t":61.4,"v":0.0229},{"t":61.6,"v":0.0218},{"t":61.8,"v":0.0204},{"t":61.95,"v":0.0191},{"t":62.1,"v":0.0183},{"t":62.35,"v":0.0187},{"t":62.6,"v":0.0179},{"t":62.85,"v":0.0186},{"t":63.1,"v":0.018},{"t":63.35,"v":0.0187},{"t":63.55,"v":0.0185},{"t":63.75,"v":0.0194},{"t":63.95,"v":0.0204},{"t":64.15,"v":0.0213},{"t":64.35,"v":0.0221},{"t":64.5,"v":0.0226},
{"t":62.8,"v":0.0192,"i":1},{"t":63.2,"v":0.0192,"i":1},{"t":65.2,"v":0.0211,"i":1},{"t":66.48,"v":0.0195,"i":1},{"t":66.48,"v":0.016,"i":1},
{"t":80,"v":0.0254},{"t":80.1,"v":0.0244},{"t":80.2,"v":0.0233},{"t":80.35,"v":0.0221},{"t":80.5,"v":0.0208},{"t":80.7,"v":0.0195},{"t":80.9,"v":0.0185},{"t":81.2,"v":0.0176},{"t":81.6,"v":0.0167},{"t":82.1,"v":0.0162},{"t":82.7,"v":0.0159},{"t":83.4,"v":0.0157},{"t":84.2,"v":0.0156},{"t":85,"v":0.0156},{"t":85.8,"v":0.0157},{"t":86.5,"v":0.0158},{"t":87,"v":0.016},{"t":87.4,"v":0.0164},{"t":87.7,"v":0.017},{"t":87.95,"v":0.0178},{"t":88.15,"v":0.0188},{"t":88.35,"v":0.0197},{"t":88.5,"v":0.0202},{"t":88.6,"v":0.0204},
{"t":84.05,"v":0.0161,"i":1},{"t":88.25,"v":0.0147,"i":1}],
"p10": [{"t":32,"v":0.028},{"t":32.1,"v":0.0271},{"t":32.2,"v":0.0261},{"t":32.35,"v":0.0249},{"t":32.5,"v":0.0237},{"t":32.7,"v":0.0222},{"t":32.9,"v":0.021},{"t":33.1,"v":0.0201},{"t":33.4,"v":0.0192},{"t":33.8,"v":0.0184},{"t":34.3,"v":0.0178},{"t":34.9,"v":0.0174},{"t":35.5,"v":0.0171},{"t":36.2,"v":0.0169},{"t":37,"v":0.0168},{"t":37.8,"v":0.0168},{"t":38.5,"v":0.0169},{"t":39,"v":0.0171},{"t":39.4,"v":0.0175},{"t":39.7,"v":0.0181},{"t":39.95,"v":0.0189},{"t":40.15,"v":0.0199},{"t":40.35,"v":0.0209},{"t":40.55,"v":0.0215},{"t":40.7,"v":0.0218},
{"t":36.07,"v":0.0172,"i":1},{"t":40.5,"v":0.0176,"i":1},{"t":41.35,"v":0.0212,"i":1},{"t":42.49,"v":0.0203,"i":1},{"t":42.49,"v":0.0175,"i":1},
{"t":56,"v":0.0303},{"t":56.05,"v":0.027},{"t":56.12,"v":0.0297},{"t":56.2,"v":0.026},{"t":56.3,"v":0.0289},{"t":56.4,"v":0.0264},{"t":56.5,"v":0.0293},{"t":56.65,"v":0.0279},{"t":56.8,"v":0.0305},{"t":57,"v":0.0315},{"t":57.15,"v":0.0307},{"t":57.3,"v":0.0323},{"t":57.45,"v":0.0297},{"t":57.55,"v":0.0283},{"t":57.7,"v":0.03},{"t":57.85,"v":0.0313},{"t":58,"v":0.0308},{"t":58.15,"v":0.0322},{"t":58.3,"v":0.0318},{"t":58.5,"v":0.0301},{"t":58.7,"v":0.0275},{"t":58.9,"v":0.0251},{"t":59.05,"v":0.0261},{"t":59.25,"v":0.0273},{"t":59.45,"v":0.0283},{"t":59.65,"v":0.0278},{"t":59.85,"v":0.0286},{"t":60.05,"v":0.0283},{"t":60.2,"v":0.0296},{"t":60.32,"v":0.0313},{"t":60.42,"v":0.0333},{"t":60.52,"v":0.0313},{"t":60.62,"v":0.0291},{"t":60.8,"v":0.0273},{"t":61,"v":0.0263},{"t":61.2,"v":0.0253},{"t":61.4,"v":0.0243},{"t":61.6,"v":0.0232},{"t":61.8,"v":0.0218},{"t":61.95,"v":0.0206},{"t":62.1,"v":0.0197},{"t":62.35,"v":0.0201},{"t":62.6,"v":0.0193},{"t":62.85,"v":0.02},{"t":63.1,"v":0.0194},{"t":63.35,"v":0.0201},{"t":63.55,"v":0.0199},{"t":63.75,"v":0.0208},{"t":63.95,"v":0.0218},{"t":64.15,"v":0.0227},{"t":64.35,"v":0.0235},{"t":64.5,"v":0.024},
{"t":62.8,"v":0.0206,"i":1},{"t":63.2,"v":0.0206,"i":1},{"t":65.2,"v":0.0224,"i":1},{"t":66.48,"v":0.0206,"i":1},{"t":66.48,"v":0.0171,"i":1},
{"t":80,"v":0.0264},{"t":80.1,"v":0.0255},{"t":80.2,"v":0.0245},{"t":80.35,"v":0.0233},{"t":80.5,"v":0.0221},{"t":80.7,"v":0.0207},{"t":80.9,"v":0.0196},{"t":81.2,"v":0.0186},{"t":81.6,"v":0.0178},{"t":82.1,"v":0.0173},{"t":82.7,"v":0.017},{"t":83.4,"v":0.0168},{"t":84.2,"v":0.0167},{"t":85,"v":0.0167},{"t":85.8,"v":0.0168},{"t":86.5,"v":0.017},{"t":87,"v":0.0172},{"t":87.4,"v":0.0176},{"t":87.7,"v":0.0182},{"t":87.95,"v":0.0191},{"t":88.15,"v":0.0201},{"t":88.35,"v":0.021},{"t":88.5,"v":0.0215},{"t":88.6,"v":0.0217},
{"t":84.05,"v":0.0172,"i":1},{"t":88.25,"v":0.0156,"i":1}]
},
"vconcat": [
{"width": 1283.5, "height": 128, "data": {"name": "p1"},
 "layer": [
  {"transform": [{"filter": "!datum.i"}], "mark": {"type": "line", "color": "black", "strokeWidth": 7.5, "strokeCap": "round", "strokeJoin": "round"},
   "encoding": {"x": {"field": "t", "type": "quantitative", "scale": {"domain": [7.446, 98.58], "nice": false, "zero": false}, "axis": {"orient": "bottom", "values": [8,16,24,32,40,48,56,64,72,80,88,96], "title": null}},
    "y": {"field": "v", "type": "quantitative", "scale": {"domain": [0.00768, 0.0339], "nice": false, "zero": false}, "axis": {"orient": "left", "values": [0.01,0.02,0.03], "format": ".2f", "title": null}},
    "detail": {"field": "t", "bin": {"step": 24, "extent": [0, 120]}}}},
  {"mark": {"type": "point", "shape": "M-1,0H1M0,-1V1", "size": 90, "color": "black", "strokeWidth": 2, "opacity": 1, "filled": false},
   "encoding": {"x": {"field": "t", "type": "quantitative", "axis": {"orient": "top", "values": [8,16,24,32,40,48,56,64,72,80,88,96], "title": null}},
    "y": {"field": "v", "type": "quantitative", "axis": {"orient": "right", "values": [0.01,0.02,0.03], "title": null}}}},
  {"data": {"values": [{}]}, "mark": {"type": "text", "align": "left", "baseline": "alphabetic", "fontSize": 23.5, "fontWeight": "bold", "lineHeight": 24, "color": "black", "font": "Liberation Sans"},
   "encoding": {"x": {"datum": 8.62, "type": "quantitative", "axis": null}, "y": {"datum": 0.02715, "type": "quantitative", "axis": null}, "text": {"value": ["23 HN", "IF 8R"]}}}
 ],
 "resolve": {"axis": {"x": "independent", "y": "independent"}}},
{"width": 1283.5, "height": 128, "data": {"name": "p2"},
 "layer": [
  {"transform": [{"filter": "!datum.i"}], "mark": {"type": "line", "color": "black", "strokeWidth": 7.5, "strokeCap": "round", "strokeJoin": "round"},
   "encoding": {"x": {"field": "t", "type": "quantitative", "scale": {"domain": [7.446, 98.58], "nice": false, "zero": false}, "axis": {"orient": "bottom", "values": [8,16,24,32,40,48,56,64,72,80,88,96], "title": null}},
    "y": {"field": "v", "type": "quantitative", "scale": {"domain": [0.0095, 0.0381], "nice": false, "zero": false}, "axis": {"orient": "left", "values": [0.01,0.02,0.03], "format": ".2f", "title": null}},
    "detail": {"field": "t", "bin": {"step": 24, "extent": [0, 120]}}}},
  {"mark": {"type": "point", "shape": "M-1,0H1M0,-1V1", "size": 90, "color": "black", "strokeWidth": 2, "opacity": 1, "filled": false},
   "encoding": {"x": {"field": "t", "type": "quantitative", "axis": {"orient": "top", "values": [8,16,24,32,40,48,56,64,72,80,88,96], "title": null}},
    "y": {"field": "v", "type": "quantitative", "axis": {"orient": "right", "values": [0.01,0.02,0.03], "title": null}}}},
  {"data": {"values": [{}]}, "mark": {"type": "text", "align": "left", "baseline": "alphabetic", "fontSize": 23.5, "fontWeight": "bold", "lineHeight": 24, "color": "black", "font": "Liberation Sans"},
   "encoding": {"x": {"datum": 8.62, "type": "quantitative", "axis": null}, "y": {"datum": 0.03074, "type": "quantitative", "axis": null}, "text": {"value": ["23 HN", "IF 8L"]}}}
 ],
 "resolve": {"axis": {"x": "independent", "y": "independent"}}},
{"width": 1283.5, "height": 129, "data": {"name": "p3"},
 "layer": [
  {"transform": [{"filter": "!datum.i"}], "mark": {"type": "line", "color": "black", "strokeWidth": 7.5, "strokeCap": "round", "strokeJoin": "round"},
   "encoding": {"x": {"field": "t", "type": "quantitative", "scale": {"domain": [7.446, 98.58], "nice": false, "zero": false}, "axis": {"orient": "bottom", "values": [8,16,24,32,40,48,56,64,72,80,88,96], "title": null}},
    "y": {"field": "v", "type": "quantitative", "scale": {"domain": [0.0129, 0.0336], "nice": false, "zero": false}, "axis": {"orient": "left", "values": [0.015,0.02,0.025,0.03], "format": ".3f", "title": null}},
    "detail": {"field": "t", "bin": {"step": 24, "extent": [0, 120]}}}},
  {"mark": {"type": "point", "shape": "M-1,0H1M0,-1V1", "size": 90, "color": "black", "strokeWidth": 2, "opacity": 1, "filled": false},
   "encoding": {"x": {"field": "t", "type": "quantitative", "axis": {"orient": "top", "values": [8,16,24,32,40,48,56,64,72,80,88,96], "title": null}},
    "y": {"field": "v", "type": "quantitative", "axis": {"orient": "right", "values": [0.015,0.02,0.025,0.03], "title": null}}}},
  {"data": {"values": [{}]}, "mark": {"type": "text", "align": "left", "baseline": "alphabetic", "fontSize": 23.5, "fontWeight": "bold", "lineHeight": 24, "color": "black", "font": "Liberation Sans"},
   "encoding": {"x": {"datum": 8.62, "type": "quantitative", "axis": null}, "y": {"datum": 0.02828, "type": "quantitative", "axis": null}, "text": {"value": ["24 NL", "IF 1R"]}}}
 ],
 "resolve": {"axis": {"x": "independent", "y": "independent"}}},
{"width": 1283.5, "height": 127, "data": {"name": "p4"},
 "layer": [
  {"transform": [{"filter": "!datum.i"}], "mark": {"type": "line", "color": "black", "strokeWidth": 7.5, "strokeCap": "round", "strokeJoin": "round"},
   "encoding": {"x": {"field": "t", "type": "quantitative", "scale": {"domain": [7.446, 98.58], "nice": false, "zero": false}, "axis": {"orient": "bottom", "values": [8,16,24,32,40,48,56,64,72,80,88,96], "title": null}},
    "y": {"field": "v", "type": "quantitative", "scale": {"domain": [0.0139, 0.0346], "nice": false, "zero": false}, "axis": {"orient": "left", "values": [0.015,0.02,0.025,0.03], "format": ".3f", "title": null}},
    "detail": {"field": "t", "bin": {"step": 24, "extent": [0, 120]}}}},
  {"mark": {"type": "point", "shape": "M-1,0H1M0,-1V1", "size": 90, "color": "black", "strokeWidth": 2, "opacity": 1, "filled": false},
   "encoding": {"x": {"field": "t", "type": "quantitative", "axis": {"orient": "top", "values": [8,16,24,32,40,48,56,64,72,80,88,96], "title": null}},
    "y": {"field": "v", "type": "quantitative", "axis": {"orient": "right", "values": [0.015,0.02,0.025,0.03], "title": null}}}},
  {"data": {"values": [{}]}, "mark": {"type": "text", "align": "left", "baseline": "alphabetic", "fontSize": 23.5, "fontWeight": "bold", "lineHeight": 24, "color": "black", "font": "Liberation Sans"},
   "encoding": {"x": {"datum": 8.62, "type": "quantitative", "axis": null}, "y": {"datum": 0.02928, "type": "quantitative", "axis": null}, "text": {"value": ["24 NL", "IF 1L"]}}}
 ],
 "resolve": {"axis": {"x": "independent", "y": "independent"}}},
{"width": 1283.5, "height": 129, "data": {"name": "p5"},
 "layer": [
  {"transform": [{"filter": "!datum.i"}], "mark": {"type": "line", "color": "black", "strokeWidth": 7.5, "strokeCap": "round", "strokeJoin": "round"},
   "encoding": {"x": {"field": "t", "type": "quantitative", "scale": {"domain": [7.446, 98.58], "nice": false, "zero": false}, "axis": {"orient": "bottom", "values": [8,16,24,32,40,48,56,64,72,80,88,96], "title": null}},
    "y": {"field": "v", "type": "quantitative", "scale": {"domain": [0.013, 0.03365], "nice": false, "zero": false}, "axis": {"orient": "left", "values": [0.015,0.02,0.025,0.03], "format": ".3f", "title": null}},
    "detail": {"field": "t", "bin": {"step": 24, "extent": [0, 120]}}}},
  {"mark": {"type": "point", "shape": "M-1,0H1M0,-1V1", "size": 90, "color": "black", "strokeWidth": 2, "opacity": 1, "filled": false},
   "encoding": {"x": {"field": "t", "type": "quantitative", "axis": {"orient": "top", "values": [8,16,24,32,40,48,56,64,72,80,88,96], "title": null}},
    "y": {"field": "v", "type": "quantitative", "axis": {"orient": "right", "values": [0.015,0.02,0.025,0.03], "title": null}}}},
  {"data": {"values": [{}]}, "mark": {"type": "text", "align": "left", "baseline": "alphabetic", "fontSize": 23.5, "fontWeight": "bold", "lineHeight": 24, "color": "black", "font": "Liberation Sans"},
   "encoding": {"x": {"datum": 8.62, "type": "quantitative", "axis": null}, "y": {"datum": 0.02834, "type": "quantitative", "axis": null}, "text": {"value": ["24 NL", "IF 2R"]}}}
 ],
 "resolve": {"axis": {"x": "independent", "y": "independent"}}},
{"width": 1283.5, "height": 129, "data": {"name": "p6"},
 "layer": [
  {"transform": [{"filter": "!datum.i"}], "mark": {"type": "line", "color": "black", "strokeWidth": 7.5, "strokeCap": "round", "strokeJoin": "round"},
   "encoding": {"x": {"field": "t", "type": "quantitative", "scale": {"domain": [7.446, 98.58], "nice": false, "zero": false}, "axis": {"orient": "bottom", "values": [8,16,24,32,40,48,56,64,72,80,88,96], "title": null}},
    "y": {"field": "v", "type": "quantitative", "scale": {"domain": [0.0139, 0.0347], "nice": false, "zero": false}, "axis": {"orient": "left", "values": [0.015,0.02,0.025,0.03], "format": ".3f", "title": "Kilo Gain", "titleX": -90, "titleY": 61, "titleAngle": 270, "titleAlign": "center", "titleBaseline": "middle"}},
    "detail": {"field": "t", "bin": {"step": 24, "extent": [0, 120]}}}},
  {"mark": {"type": "point", "shape": "M-1,0H1M0,-1V1", "size": 90, "color": "black", "strokeWidth": 2, "opacity": 1, "filled": false},
   "encoding": {"x": {"field": "t", "type": "quantitative", "axis": {"orient": "top", "values": [8,16,24,32,40,48,56,64,72,80,88,96], "title": null}},
    "y": {"field": "v", "type": "quantitative", "axis": {"orient": "right", "values": [0.015,0.02,0.025,0.03], "title": null}}}},
  {"data": {"values": [{}]}, "mark": {"type": "text", "align": "left", "baseline": "alphabetic", "fontSize": 23.5, "fontWeight": "bold", "lineHeight": 24, "color": "black", "font": "Liberation Sans"},
   "encoding": {"x": {"datum": 8.62, "type": "quantitative", "axis": null}, "y": {"datum": 0.02935, "type": "quantitative", "axis": null}, "text": {"value": ["24 NL", "IF 2L"]}}}
 ],
 "resolve": {"axis": {"x": "independent", "y": "independent"}}},
{"width": 1283.5, "height": 128, "data": {"name": "p7"},
 "layer": [
  {"transform": [{"filter": "!datum.i"}], "mark": {"type": "line", "color": "black", "strokeWidth": 7.5, "strokeCap": "round", "strokeJoin": "round"},
   "encoding": {"x": {"field": "t", "type": "quantitative", "scale": {"domain": [7.446, 98.58], "nice": false, "zero": false}, "axis": {"orient": "bottom", "values": [8,16,24,32,40,48,56,64,72,80,88,96], "title": null}},
    "y": {"field": "v", "type": "quantitative", "scale": {"domain": [0.013, 0.0339], "nice": false, "zero": false}, "axis": {"orient": "left", "values": [0.015,0.02,0.025,0.03], "format": ".3f", "title": null}},
    "detail": {"field": "t", "bin": {"step": 24, "extent": [0, 120]}}}},
  {"mark": {"type": "point", "shape": "M-1,0H1M0,-1V1", "size": 90, "color": "black", "strokeWidth": 2, "opacity": 1, "filled": false},
   "encoding": {"x": {"field": "t", "type": "quantitative", "axis": {"orient": "top", "values": [8,16,24,32,40,48,56,64,72,80,88,96], "title": null}},
    "y": {"field": "v", "type": "quantitative", "axis": {"orient": "right", "values": [0.015,0.02,0.025,0.03], "title": null}}}},
  {"data": {"values": [{}]}, "mark": {"type": "text", "align": "left", "baseline": "alphabetic", "fontSize": 23.5, "fontWeight": "bold", "lineHeight": 24, "color": "black", "font": "Liberation Sans"},
   "encoding": {"x": {"datum": 8.62, "type": "quantitative", "axis": null}, "y": {"datum": 0.02852, "type": "quantitative", "axis": null}, "text": {"value": ["24 NL", "IF 3R"]}}}
 ],
 "resolve": {"axis": {"x": "independent", "y": "independent"}}},
{"width": 1283.5, "height": 128, "data": {"name": "p8"},
 "layer": [
  {"transform": [{"filter": "!datum.i"}], "mark": {"type": "line", "color": "black", "strokeWidth": 7.5, "strokeCap": "round", "strokeJoin": "round"},
   "encoding": {"x": {"field": "t", "type": "quantitative", "scale": {"domain": [7.446, 98.58], "nice": false, "zero": false}, "axis": {"orient": "bottom", "values": [8,16,24,32,40,48,56,64,72,80,88,96], "title": null}},
    "y": {"field": "v", "type": "quantitative", "scale": {"domain": [0.0138, 0.0351], "nice": false, "zero": false}, "axis": {"orient": "left", "values": [0.015,0.02,0.025,0.03,0.035], "format": ".3f", "title": null}},
    "detail": {"field": "t", "bin": {"step": 24, "extent": [0, 120]}}}},
  {"mark": {"type": "point", "shape": "M-1,0H1M0,-1V1", "size": 90, "color": "black", "strokeWidth": 2, "opacity": 1, "filled": false},
   "encoding": {"x": {"field": "t", "type": "quantitative", "axis": {"orient": "top", "values": [8,16,24,32,40,48,56,64,72,80,88,96], "title": null}},
    "y": {"field": "v", "type": "quantitative", "axis": {"orient": "right", "values": [0.015,0.02,0.025,0.03,0.035], "title": null}}}},
  {"data": {"values": [{}]}, "mark": {"type": "text", "align": "left", "baseline": "alphabetic", "fontSize": 23.5, "fontWeight": "bold", "lineHeight": 24, "color": "black", "font": "Liberation Sans"},
   "encoding": {"x": {"datum": 8.62, "type": "quantitative", "axis": null}, "y": {"datum": 0.02962, "type": "quantitative", "axis": null}, "text": {"value": ["24 NL", "IF 3L"]}}}
 ],
 "resolve": {"axis": {"x": "independent", "y": "independent"}}},
{"width": 1283.5, "height": 129, "data": {"name": "p9"},
 "layer": [
  {"transform": [{"filter": "!datum.i"}], "mark": {"type": "line", "color": "black", "strokeWidth": 7.5, "strokeCap": "round", "strokeJoin": "round"},
   "encoding": {"x": {"field": "t", "type": "quantitative", "scale": {"domain": [7.446, 98.58], "nice": false, "zero": false}, "axis": {"orient": "bottom", "values": [8,16,24,32,40,48,56,64,72,80,88,96], "title": null}},
    "y": {"field": "v", "type": "quantitative", "scale": {"domain": [0.013, 0.0341], "nice": false, "zero": false}, "axis": {"orient": "left", "values": [0.015,0.02,0.025,0.03], "format": ".3f", "title": null}},
    "detail": {"field": "t", "bin": {"step": 24, "extent": [0, 120]}}}},
  {"mark": {"type": "point", "shape": "M-1,0H1M0,-1V1", "size": 90, "color": "black", "strokeWidth": 2, "opacity": 1, "filled": false},
   "encoding": {"x": {"field": "t", "type": "quantitative", "axis": {"orient": "top", "values": [8,16,24,32,40,48,56,64,72,80,88,96], "title": null}},
    "y": {"field": "v", "type": "quantitative", "axis": {"orient": "right", "values": [0.015,0.02,0.025,0.03], "title": null}}}},
  {"data": {"values": [{}]}, "mark": {"type": "text", "align": "left", "baseline": "alphabetic", "fontSize": 23.5, "fontWeight": "bold", "lineHeight": 24, "color": "black", "font": "Liberation Sans"},
   "encoding": {"x": {"datum": 8.62, "type": "quantitative", "axis": null}, "y": {"datum": 0.02867, "type": "quantitative", "axis": null}, "text": {"value": ["24 NL", "IF 4R"]}}}
 ],
 "resolve": {"axis": {"x": "independent", "y": "independent"}}},
{"width": 1283.5, "height": 128, "data": {"name": "p10"},
 "layer": [
  {"transform": [{"filter": "!datum.i"}], "mark": {"type": "line", "color": "black", "strokeWidth": 7.5, "strokeCap": "round", "strokeJoin": "round"},
   "encoding": {"x": {"field": "t", "type": "quantitative", "scale": {"domain": [7.446, 98.58], "nice": false, "zero": false}, "axis": {"orient": "bottom", "values": [8,16,24,32,40,48,56,64,72,80,88,96], "labels": true, "labelPadding": 24, "labelExpr": "datum.value < 24 ? (datum.value < 10 ? '0' + datum.value : '' + datum.value) : floor(datum.value / 24) + '/' + (datum.value % 24 < 10 ? '0' : '') + (datum.value % 24)", "title": "Time (hours)", "titleX": 657, "titleY": 32, "titleAlign": "center", "titleBaseline": "top"}},
    "y": {"field": "v", "type": "quantitative", "scale": {"domain": [0.0138, 0.0351], "nice": false, "zero": false}, "axis": {"orient": "left", "values": [0.015,0.02,0.025,0.03,0.035], "format": ".3f", "title": null}},
    "detail": {"field": "t", "bin": {"step": 24, "extent": [0, 120]}}}},
  {"mark": {"type": "point", "shape": "M-1,0H1M0,-1V1", "size": 90, "color": "black", "strokeWidth": 2, "opacity": 1, "filled": false},
   "encoding": {"x": {"field": "t", "type": "quantitative", "axis": {"orient": "top", "values": [8,16,24,32,40,48,56,64,72,80,88,96], "title": null}},
    "y": {"field": "v", "type": "quantitative", "axis": {"orient": "right", "values": [0.015,0.02,0.025,0.03,0.035], "title": null}}}},
  {"data": {"values": [{}]}, "mark": {"type": "text", "align": "left", "baseline": "alphabetic", "fontSize": 23.5, "fontWeight": "bold", "lineHeight": 24, "color": "black", "font": "Liberation Sans"},
   "encoding": {"x": {"datum": 8.62, "type": "quantitative", "axis": null}, "y": {"datum": 0.02962, "type": "quantitative", "axis": null}, "text": {"value": ["24 NL", "IF 4L"]}}}
 ],
 "resolve": {"axis": {"x": "independent", "y": "independent"}}}
]
}
